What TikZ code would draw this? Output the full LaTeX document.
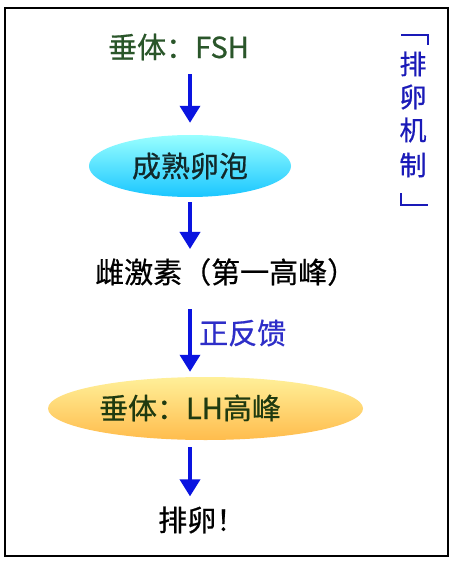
\documentclass[tikz,border=0pt]{standalone}
\usepackage{fontspec}
\setmainfont{Noto Sans CJK SC}[FakeBold=0.6]
\usetikzlibrary{arrows.meta, shapes.geometric}
\tikzset{>={Triangle[width=20pt, length=17pt]}}
\tikzset{every text node part/.style={align=center}}
\definecolor{arrowblue}{HTML}{0A14E0}
\definecolor{fshgreen}{HTML}{2A562A}
\definecolor{lhgreen}{HTML}{1F3A10}
\definecolor{follink}{HTML}{12282A}
\definecolor{fbblue}{HTML}{2E2EC8}
\definecolor{mechblue}{HTML}{1A1AB8}
\tikzset{
	flow/.style={draw=arrowblue, line width=3.6pt, ->},
	tag/.style={inner sep=0pt, font=\fontsize{29}{34}\selectfont},
	pill/.style={ellipse, inner sep=0pt, draw=none},
	mech/.style={inner sep=0pt, text=mechblue, font=\fontsize{27}{32}\selectfont},
	brace/.style={draw=mechblue, line width=2.4pt}
}

\begin{document}
\begin{tikzpicture}[x=1pt, y=-1pt]
	
	% Canvas and frame
	\useasboundingbox[fill=white] (0,0) rectangle (460,564);
	\draw[line width=1.8pt] (5,8) rectangle (448,556);
	
	% Hormone chain
	\node[tag, text=fshgreen] (fsh) at (178.5,47) {垂体：FSH};
	\node[pill, minimum width=202pt, minimum height=62pt, top color=cyan!40, bottom color=cyan!75!blue!90!white, text=follink] (foll) at (190,166) {\fontsize{29}{34}\selectfont 成熟卵泡};
	\node[tag, anchor=west] (estr) at (95,272) {雌激素（第一高峰）};
	\node[tag, anchor=west, text=fbblue] (fb) at (199,333) {正反馈};
	\node[pill, minimum width=315pt, minimum height=63pt, top color=orange!30!yellow!40, bottom color=orange!75!yellow!70] (lh) at (205.5,408.5) {};
	\node[tag, text=lhgreen] (lhtext) at (190,408) {垂体：LH高峰};
	\node[tag, anchor=west] (ovu) at (158,520) {排卵！};
	
	% Arrows
	\draw[flow, shorten <=14pt, shorten >=12pt] (fsh.south -| foll) -- (foll.north);
	\draw[flow, shorten <=5pt, shorten >=9pt] (foll.south) -- (estr.north -| foll);
	\draw[flow, shorten <=23pt, shorten >=5pt] (estr.south -| foll) -- (lh.north -| foll);
	\draw[flow, shorten <=7pt, shorten >=10pt] (lh.south -| foll) -- (ovu.north -| foll);
	
	% Side title (vertical, in corner brackets)
	\foreach \c/\y in {排/64,卵/97,机/130,制/165}
		\node[mech] (mech\c) at (413,\y) {\c};
	\draw[brace] (401,35) -- (428,35) -- (428,45);
	\draw[brace] (401,193) -- (401,205) -- (428,205);
\end{tikzpicture}
\end{document}
